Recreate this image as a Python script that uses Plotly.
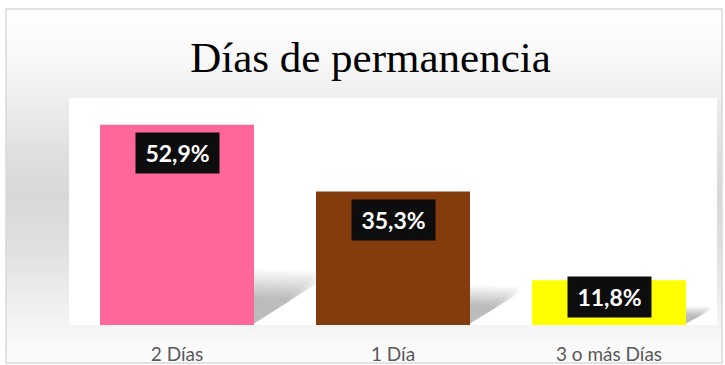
import plotly.graph_objects as go

# Chart data
categories = ["2 Días", "1 Día", "3 o más Días"]
values = [52.9, 35.3, 11.8]
bar_colors = ["#FF6699", "#843C0C", "#FFFF00"]
value_labels = ["52,9%", "35,3%", "11,8%"]
title_text = "Días de permanencia"

W, H = 725, 365
M_L, M_R, M_T, M_B = 69, 8, 98, 40
PLOT_W = W - M_L - M_R
PLOT_H = H - M_T - M_B
Y_MAX = 60
BAR_W = 0.713

x_pos = list(range(len(categories)))


def px_to_paper_x(px):
    return (px - M_L) / PLOT_W


def px_to_paper_y(py):
    return (H - M_B - py) / PLOT_H


def bg_gray(py):
    # vertical "reflected" gradient: white at the top, grey in the middle, white at the bottom
    stops = [(9, 255), (60, 248), (100, 238), (150, 224), (195, 216),
             (250, 224), (300, 238), (340, 248), (363, 252)]
    for (y0, g0), (y1, g1) in zip(stops, stops[1:]):
        if y0 <= py <= y1:
            t = (py - y0) / (y1 - y0)
            return round(g0 + (g1 - g0) * t)
    return 255


shapes = []

# background gradient around the plot area
step = 3
py = 9
while py < 363:
    g = bg_gray(py + step / 2)
    shapes.append(dict(
        type="rect", xref="paper", yref="paper", layer="below",
        x0=px_to_paper_x(6), x1=px_to_paper_x(722),
        y0=px_to_paper_y(min(py + step, 363)), y1=px_to_paper_y(py),
        line=dict(width=0), fillcolor=f"rgb({g},{g},{g})",
    ))
    py += step

# white plot area on top of the gradient
shapes.append(dict(
    type="rect", xref="paper", yref="paper", layer="below",
    x0=0, x1=1, y0=0, y1=1, line=dict(width=0), fillcolor="#FFFFFF",
))

# outer frame
shapes.append(dict(
    type="rect", xref="paper", yref="paper", layer="above",
    x0=px_to_paper_x(6), x1=px_to_paper_x(722),
    y0=px_to_paper_y(363), y1=px_to_paper_y(9),
    line=dict(color="#D9D9D9", width=1.5), fillcolor="rgba(0,0,0,0)",
))

# soft perspective shadows cast to the right of each bar (stacked translucent layers)
n_layers = 14
for xc, v in zip(x_pos, values):
    xr = xc + BAR_W / 2
    s = 0.2 * v + 2.0
    d = 0.004 * v + 0.05
    for k in range(n_layers):
        f = 1.18 - 0.6 * k / (n_layers - 1)
        ss = s * f
        dd = d * f
        path = (f"M {xr - 0.01},0 L {xr - 0.01},{ss:.3f} "
                f"L {xr + dd:.4f},{ss * 0.96:.3f} L {xr + dd * 1.02:.4f},{ss * 0.8:.3f} Z")
        shapes.append(dict(
            type="path", xref="x", yref="y", layer="below", path=path,
            fillcolor="rgba(0,0,0,0.02)", line=dict(width=0),
        ))

fig = go.Figure(go.Bar(
    x=x_pos, y=values, width=BAR_W,
    marker=dict(color=bar_colors, line=dict(width=0)),
    hoverinfo="skip",
))

# value labels in black boxes
annotations = []
for xc, v, lab in zip(x_pos, values, value_labels):
    annotations.append(dict(
        x=xc, y=v - min(7.5, 0.37 * v), xref="x", yref="y",
        text=f"<b>{lab}</b>", showarrow=False,
        font=dict(family="Lato, Open Sans, sans-serif", size=23, color="#FFFFFF"),
        bgcolor="#0D0D0D", width=83, height=40, align="center", valign="middle",
        xanchor="center", yanchor="middle", borderpad=0,
    ))

fig.update_layout(
    width=W, height=H,
    margin=dict(l=M_L, r=M_R, t=M_T, b=M_B),
    paper_bgcolor="#FFFFFF",
    plot_bgcolor="#FFFFFF",
    showlegend=False,
    title=dict(
        text=title_text, x=(192 + 549) / 2 / W, xanchor="center",
        y=1 - 57 / H, yanchor="middle", yref="container",
        font=dict(family="Liberation Serif, Times New Roman, serif", size=43, color="#000000"),
    ),
    xaxis=dict(
        range=[-0.5, 2.5], tickvals=x_pos, ticktext=categories,
        showgrid=False, zeroline=False, showline=False, automargin=False,
        ticks="outside", ticklen=12, tickcolor="rgba(0,0,0,0)",
        tickfont=dict(family="Lato, Open Sans, sans-serif", size=19, color="#595959"),
        fixedrange=True,
    ),
    yaxis=dict(
        range=[0, Y_MAX], visible=False, showgrid=False, zeroline=False,
        automargin=False, fixedrange=True,
    ),
    shapes=shapes,
    annotations=annotations,
)

fig.write_html("out.html")
